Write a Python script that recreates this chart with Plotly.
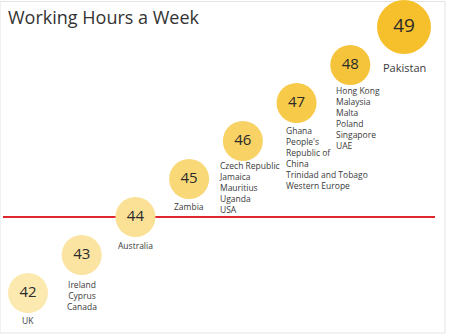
import plotly.graph_objects as go

# ---- data ----
hours = [42, 43, 44, 45, 46, 47, 48, 49]
countries = [
    ["UK"],
    ["Ireland", "Cyprus", "Canada"],
    ["Australia"],
    ["Zambia"],
    ["Czech Republic", "Jamaica", "Mauritius", "Uganda", "USA"],
    ["Ghana", "People's", "Republic of", "China", "Trinidad and Tobago", "Western Europe"],
    ["Hong Kong", "Malaysia", "Malta", "Poland", "Singapore", "UAE"],
    ["Pakistan"],
]
reference_hours = 44
title_text = "Working Hours a Week"

# ---- styles ----
colors = ["#fce9b0", "#fbe4a2", "#fae196", "#f9d877", "#f8d265", "#f7ca4a", "#f6c43b", "#f6bf2c"]
sizes = [40, 40, 40, 40, 40, 40, 40, 54]
num_font = [15, 15, 15, 15, 15, 15, 15, 19]
label_align = ["center", "center", "center", "center", "left", "left", "left", "center"]
label_xshift = [0, 0, 0, 0, -26, -13, -16, 0]
label_yshift = [-19.5, -21.5, -20.5, -20, -16.5, -20, -17.5, -31]
label_size = [8.5, 8.5, 8.5, 8.5, 8.5, 8.5, 8.5, 11]
FONT = "Open Sans"
W, H = 454, 335

fig = go.Figure()
fig.add_trace(go.Scatter(
    x=hours, y=hours,
    mode="markers+text",
    marker=dict(size=sizes, color=colors, line=dict(width=0), opacity=1),
    text=[str(h) for h in hours],
    textposition="middle center",
    textfont=dict(family=FONT, size=num_font, color="#2b2b2b"),
    hoverinfo="skip",
    cliponaxis=False,
))

for h, names, al, xs, ys, fs in zip(hours, countries, label_align, label_xshift, label_yshift, label_size):
    fig.add_annotation(
        x=h, y=h, xref="x", yref="y",
        text="<br>".join(names),
        showarrow=False,
        xanchor="center" if al == "center" else "left",
        yanchor="top",
        align=al,
        xshift=xs, yshift=ys,
        font=dict(family=FONT, size=fs, color="#3a3a3a"),
    )

# reference line
fig.add_shape(type="line", xref="paper", yref="y",
              x0=3 / W, x1=435 / W, y0=reference_hours, y1=reference_hours,
              line=dict(color="#e0262e", width=2), layer="below")
# frame
fig.add_shape(type="rect", xref="paper", yref="paper",
              x0=0, x1=445 / W, y0=2 / H, y1=1 - 1.5 / H,
              line=dict(color="#e4e4e4", width=1), layer="below")

y42, y49 = 293, 27
px_x = (404 - 28) / 7
px_y = (y42 - y49) / 7
fig.update_layout(
    width=W, height=H,
    margin=dict(l=0, r=0, t=0, b=0),
    paper_bgcolor="white", plot_bgcolor="white",
    showlegend=False,
    xaxis=dict(range=[42 - 28 / px_x, 42 + (W - 28) / px_x], visible=False, fixedrange=True),
    yaxis=dict(range=[42 - (H - y42) / px_y, 49 + y49 / px_y], visible=False, fixedrange=True),
    title=dict(text=title_text, x=8 / W, y=1 - 17.5 / H, xref="paper", yref="paper",
               xanchor="left", yanchor="middle",
               font=dict(family=FONT, size=18, color="#333333")),
)

fig.write_html("out.html")
